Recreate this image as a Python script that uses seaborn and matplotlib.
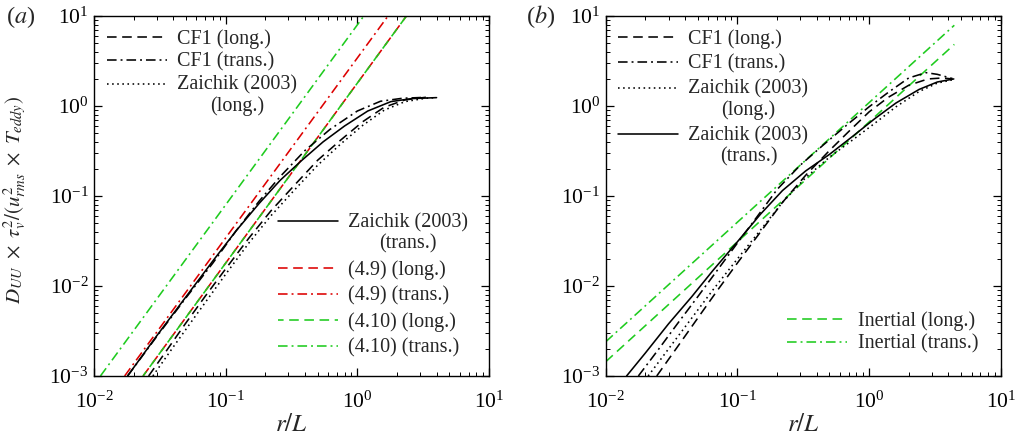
import numpy as np
import matplotlib
matplotlib.use("Agg")
import matplotlib.pyplot as plt
import seaborn as sns

# ---------------- Panel (a) data ----------------
a_cf1_long_r = [0.026, 0.035, 0.05, 0.07, 0.1, 0.15, 0.22, 0.33, 0.5, 0.75, 1.1, 1.6, 2.3, 3.3]
a_cf1_long_y = [1.0e-3, 1.85e-3, 3.9e-3, 7.7e-3, 0.0155, 0.034, 0.068, 0.13, 0.25, 0.42, 0.67, 0.97, 1.17, 1.25]

a_cf1_trans_r = [0.018, 0.03, 0.05, 0.08, 0.12, 0.18, 0.26, 0.4, 0.62, 1.0, 1.5, 2.2, 3.3]
a_cf1_trans_y = [1.0e-3, 2.75e-3, 7.4e-3, 0.018, 0.041, 0.088, 0.165, 0.32, 0.55, 0.88, 1.13, 1.22, 1.25]

a_zl_r = [0.028, 0.04, 0.06, 0.1, 0.15, 0.22, 0.33, 0.5, 0.75, 1.1, 1.6, 2.3, 3.3, 4.0]
a_zl_y = [1.0e-3, 2.1e-3, 4.8e-3, 0.0135, 0.030, 0.060, 0.115, 0.22, 0.38, 0.61, 0.90, 1.12, 1.22, 1.24]

a_zt_r = [0.018, 0.03, 0.05, 0.08, 0.12, 0.18, 0.26, 0.38, 0.55, 0.8, 1.2, 1.8, 2.6, 4.0]
a_zt_y = [1.0e-3, 2.8e-3, 7.6e-3, 0.019, 0.041, 0.083, 0.15, 0.25, 0.40, 0.60, 0.88, 1.12, 1.21, 1.24]

a_49_long_r = [0.0236, 2.36]
a_49_long_y = [1.0e-3, 10.0]
a_49_trans_r = [0.0171, 1.71]
a_49_trans_y = [1.0e-3, 10.0]
a_410_long_r = [0.0236, 2.36]
a_410_long_y = [1.0e-3, 10.0]
a_410_trans_r = [0.0112, 1.12]
a_410_trans_y = [1.0e-3, 10.0]

# ---------------- Panel (b) data ----------------
b_cf1_long_r = [0.0244, 0.035, 0.05, 0.07, 0.1, 0.15, 0.22, 0.33, 0.5, 0.7, 1.0, 1.4, 2.0, 2.8, 3.6, 4.3]
b_cf1_long_y = [1.0e-3, 2.1e-3, 4.4e-3, 8.8e-3, 0.018, 0.040, 0.085, 0.17, 0.32, 0.52, 0.86, 1.25, 1.7, 2.0, 2.05, 2.0]

b_cf1_trans_r = [0.0177, 0.025, 0.035, 0.05, 0.07, 0.1, 0.14, 0.2, 0.3, 0.45, 0.7, 1.0, 1.4, 2.0, 2.7, 3.3, 4.3]
b_cf1_trans_y = [1.0e-3, 1.95e-3, 3.8e-3, 7.6e-3, 0.0148, 0.030, 0.058, 0.118, 0.22, 0.37, 0.64, 0.98, 1.42, 2.05, 2.35, 2.25, 2.02]

b_zl_r = [0.021, 0.03, 0.045, 0.065, 0.1, 0.15, 0.22, 0.33, 0.5, 0.75, 1.1, 1.6, 2.4, 3.3, 4.4]
b_zl_y = [1.0e-3, 2.0e-3, 4.4e-3, 9.0e-3, 0.02, 0.042, 0.085, 0.16, 0.27, 0.42, 0.64, 0.98, 1.45, 1.8, 1.97]

b_zt_r = [0.0144, 0.02, 0.03, 0.045, 0.065, 0.1, 0.15, 0.22, 0.33, 0.5, 0.75, 1.1, 1.6, 2.4, 3.3, 4.4]
b_zt_y = [1.0e-3, 1.8e-3, 3.8e-3, 7.6e-3, 0.0148, 0.031, 0.063, 0.115, 0.19, 0.29, 0.46, 0.72, 1.08, 1.53, 1.85, 2.0]

b_in_long_r = [0.01, 4.44]
b_in_long_y = [1.44e-3, 4.84]
b_in_trans_r = [0.01, 4.44]
b_in_trans_y = [2.4e-3, 7.9]

x_limits = [1e-2, 1e1]
y_limits = [1e-3, 1e1]

# ---------------- styling ----------------
sns.set_style("ticks")
plt.rcParams.update({
    "font.family": ["Liberation Serif", "DejaVu Serif"],
    "mathtext.fontset": "stix",
    "xtick.direction": "in", "ytick.direction": "in",
    "xtick.top": True, "ytick.right": True,
    "xtick.major.size": 5.5, "ytick.major.size": 5.5,
    "xtick.minor.size": 3, "ytick.minor.size": 3,
    "xtick.major.width": 0.9, "ytick.major.width": 0.9,
    "xtick.minor.width": 0.7, "ytick.minor.width": 0.7,
    "axes.linewidth": 1.0,
    "axes.edgecolor": "black",
    "xtick.color": "black", "ytick.color": "black",
    "xtick.labelsize": 15.5, "ytick.labelsize": 15.5,
    "xtick.major.pad": 11, "ytick.major.pad": 4,
})

RED = "#dd0000"
GREEN = "#1ecb1e"
LW = 1.15
DASH = (0, (6, 3.5))
DASHDOT = (0, (6, 2.5, 1.2, 2.5))
DOT = (0, (1, 2.2))
SOLID = "-"

fig = plt.figure(figsize=(10.17, 4.46), dpi=100)
axa = fig.add_axes([0.0924, 0.157, 0.3884, 0.807])
axb = fig.add_axes([0.5956, 0.157, 0.3884, 0.807])

for ax in (axa, axb):
    ax.set_xscale("log")
    ax.set_yscale("log")


def draw(ax, r, y, color, ls, label):
    sns.lineplot(x=r, y=y, ax=ax, color=color, linestyle=ls, linewidth=LW,
                 label=label, legend=False, sort=False, estimator=None)
    return ax.lines[-1]


# panel (a)
h_a49l = draw(axa, a_49_long_r, a_49_long_y, RED, DASH, "(4.9) (long.)")
h_a49t = draw(axa, a_49_trans_r, a_49_trans_y, RED, DASHDOT, "(4.9) (trans.)")
h_a410l = draw(axa, a_410_long_r, a_410_long_y, GREEN, (2.5, (6, 3.5)), "(4.10) (long.)")
h_a410t = draw(axa, a_410_trans_r, a_410_trans_y, GREEN, DASHDOT, "(4.10) (trans.)")
h_acl = draw(axa, a_cf1_long_r, a_cf1_long_y, "black", DASH, "CF1 (long.)")
h_act = draw(axa, a_cf1_trans_r, a_cf1_trans_y, "black", DASHDOT, "CF1 (trans.)")
h_azl = draw(axa, a_zl_r, a_zl_y, "black", DOT, "Zaichik (2003)\n(long.)")
h_azt = draw(axa, a_zt_r, a_zt_y, "black", SOLID, "Zaichik (2003)\n(trans.)")

# panel (b)
h_bil = draw(axb, b_in_long_r, b_in_long_y, GREEN, DASH, "Inertial (long.)")
h_bit = draw(axb, b_in_trans_r, b_in_trans_y, GREEN, DASHDOT, "Inertial (trans.)")
h_bcl = draw(axb, b_cf1_long_r, b_cf1_long_y, "black", DASH, "CF1 (long.)")
h_bct = draw(axb, b_cf1_trans_r, b_cf1_trans_y, "black", DASHDOT, "CF1 (trans.)")
h_bzl = draw(axb, b_zl_r, b_zl_y, "black", DOT, "Zaichik (2003)\n(long.)")
h_bzt = draw(axb, b_zt_r, b_zt_y, "black", SOLID, "Zaichik (2003)\n(trans.)")

for ax in (axa, axb):
    ax.set_xlim(*x_limits)
    ax.set_ylim(*y_limits)
    ax.set_xlabel("$r/L$", fontsize=18)
    ax.xaxis.set_label_coords(0.5, -0.105)
    ax.set_ylabel("")
    ax.xaxis.set_minor_locator(matplotlib.ticker.LogLocator(base=10, subs=np.arange(2, 10), numticks=20))
    ax.yaxis.set_minor_locator(matplotlib.ticker.LogLocator(base=10, subs=np.arange(2, 10), numticks=20))
    ax.xaxis.set_minor_formatter(matplotlib.ticker.NullFormatter())
    ax.yaxis.set_minor_formatter(matplotlib.ticker.NullFormatter())

axa.set_ylabel(r"$D_{UU}\ \times\ \tau_v^2/(u_{rms}^2\ \times\ T_{eddy})$", fontsize=15)
axa.yaxis.set_label_coords(-0.165, 0.49)

LEG_FS = 14.5


def make_legend(ax, handles, loc, anchor, spacing):
    leg = ax.legend(handles=handles, labels=[h.get_label() for h in handles],
                    loc=loc, bbox_to_anchor=anchor, frameon=False, fontsize=LEG_FS,
                    handlelength=3.0, handletextpad=0.5, labelspacing=spacing,
                    borderpad=0, borderaxespad=0)
    for t in leg.get_texts():
        t.set_multialignment("center")
        t.set_linespacing(1.15)
    for lh, h in zip(leg.legend_handles, handles):
        if "\n" in h.get_label():
            yd = np.asarray(lh.get_ydata(), dtype=float)
            lh.set_ydata(yd + 8.5)
    return leg


leg_a1 = make_legend(axa, [h_acl, h_act, h_azl], "upper left", (0.033, 0.963), 0.17)
axa.add_artist(leg_a1)
leg_a2 = make_legend(axa, [h_azt, h_a49l, h_a49t, h_a410l, h_a410t], "lower right", (0.947, 0.05), 0.33)

leg_b1 = make_legend(axb, [h_bcl, h_bct, h_bzl, h_bzt], "upper left", (0.031, 0.963), 0.27)
axb.add_artist(leg_b1)
leg_b2 = make_legend(axb, [h_bil, h_bit], "lower right", (0.9425, 0.062), 0.17)

fig.text(6 / 1017, 1 - 17 / 446, "($a$)", ha="left", va="center", fontsize=17.5)
fig.text(526 / 1017, 1 - 17 / 446, "($b$)", ha="left", va="center", fontsize=17.5)

fig.savefig("out.png", dpi=100)
